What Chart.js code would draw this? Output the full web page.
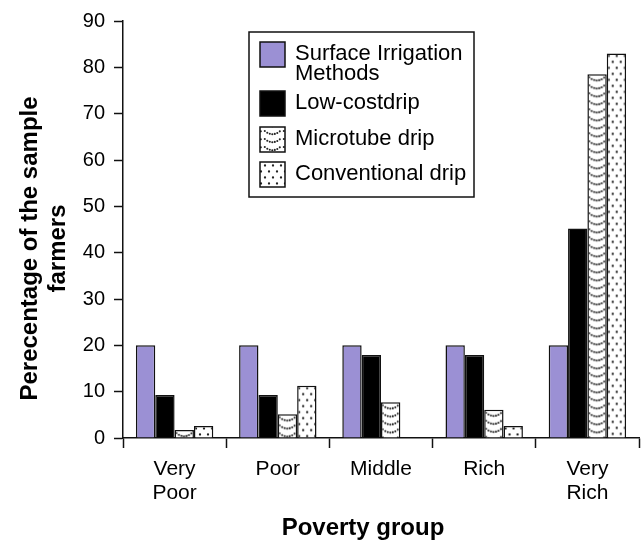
<!DOCTYPE html>
<html>
<head>
<meta charset="utf-8">
<script src="https://cdn.jsdelivr.net/npm/chart.js@4/dist/chart.umd.min.js"></script>
<style>
  html, body { margin: 0; padding: 0; background: #fff; }
  #wrap { width: 642px; height: 545px; }
</style>
</head>
<body>
<div id="wrap"><canvas id="chart" width="642" height="545"></canvas></div>
<script>
// Poverty groups on the x axis
const groups = [['Very', 'Poor'], 'Poor', 'Middle', 'Rich', ['Very', 'Rich']];

// Irrigation methods (legend text, one entry per line)
const seriesNames = [
  ['Surface Irrigation', 'Methods'],
  ['Low-costdrip'],
  ['Microtube drip'],
  ['Conventional drip']
];

// Percentage of sample farmers in each group
const surfaceIrrigation = [20, 20, 20, 20, 20];
const lowCostDrip       = [9.3, 9.3, 17.9, 17.9, 45.2];
const microtubeDrip     = [1.7, 5.1, 7.7, 6.1, 78.5];
const conventionalDrip  = [2.6, 11.3, 0, 2.6, 83.0];

// y axis ticks
const yMin = 0, yMax = 90, yStep = 10;

const FONT = "'Liberation Sans', Arial, Helvetica, sans-serif";
const INK = '#111';

// --- hatch tiles -------------------------------------------------------
function makeTile(w, h, paint) {
  const c = document.createElement('canvas');
  c.width = w; c.height = h;
  const g = c.getContext('2d');
  g.fillStyle = '#fff';
  g.fillRect(0, 0, w, h);
  g.fillStyle = '#222';
  paint(g, w, h);
  return c;
}
function dot(g, x, y, r) {
  g.beginPath(); g.arc(x, y, r, 0, Math.PI * 2); g.fill();
}
// rows of dotted "smile" arcs
const microTile = makeTile(19, 8, (g, w) => {
  for (let x = 1.8; x < w; x += 2.5) {
    const t = (x - w / 2) / (w / 2);
    dot(g, x, 1.4 + 4.8 * (1 - t * t), 1.05);
  }
});
// staggered dots
const dotTile = makeTile(8, 12, (g) => {
  dot(g, 2, 2.5, 1.15);
  dot(g, 6, 8.5, 1.15);
});

const ctx = document.getElementById('chart').getContext('2d');

function tiledPattern(tile, x, y) {
  const p = ctx.createPattern(tile, 'repeat');
  p.setTransform(new DOMMatrix([1, 0, 0, 1, x, y]));
  return p;
}

// Anchor each patterned bar's fill to its own top-left corner
const alignPatterns = {
  id: 'alignPatterns',
  afterDatasetsUpdate(chart) {
    chart.data.datasets.forEach((ds, i) => {
      if (!ds.tile) return;
      chart.getDatasetMeta(i).data.forEach(el => {
        const left = el.x - el.width / 2;
        el.options = Object.assign({}, el.options, {
          backgroundColor: tiledPattern(ds.tile, left, el.y)
        });
      });
    });
  }
};

// Boxed legend inside the plot
const boxLegend = {
  id: 'boxLegend',
  afterDatasetsDraw(chart) {
    const a = chart.chartArea;
    const g = chart.ctx;
    const bx = a.left + 126, by = a.top + 11, bw = 225, bh = 165;
    g.save();
    g.fillStyle = '#fff';
    g.fillRect(bx, by, bw, bh);
    g.lineWidth = 1.5;
    g.strokeStyle = INK;
    g.strokeRect(bx, by, bw, bh);

    const swatchTops = [10, 59, 95, 130];
    const sw = 25;
    g.font = `22px ${FONT}`;
    g.textBaseline = 'middle';
    g.textAlign = 'left';
    chart.data.datasets.forEach((ds, i) => {
      const sx = bx + 11, sy = by + swatchTops[i];
      g.fillStyle = ds.tile ? tiledPattern(ds.tile, sx + 3, sy + 1) : ds.backgroundColor;
      g.fillRect(sx, sy, sw, sw);
      g.lineWidth = 1.5;
      g.strokeStyle = INK;
      g.strokeRect(sx, sy, sw, sw);
      g.fillStyle = '#000';
      seriesNames[i].forEach((line, k) => {
        g.fillText(line, bx + 46, sy + 12 + k * 20);
      });
    });
    g.restore();
  }
};

// Axis titles
const axisTitles = {
  id: 'axisTitles',
  afterDraw(chart) {
    const a = chart.chartArea;
    const g = chart.ctx;
    g.save();
    g.fillStyle = '#000';
    g.font = `bold 24px ${FONT}`;
    g.textAlign = 'center';
    g.textBaseline = 'middle';
    g.fillText('Poverty group', (a.left + a.right) / 2 - 18, 528);
    const cy = (a.top + a.bottom) / 2 + 19;
    g.translate(0, cy);
    g.rotate(-Math.PI / 2);
    g.fillText('Perecentage of the sample', 0, 30);
    g.fillText('farmers', 0, 58);
    g.restore();
  }
};

const barBorder = { borderColor: INK, borderWidth: 1.5, borderSkipped: 'bottom' };

new Chart(ctx, {
  type: 'bar',
  data: {
    labels: groups,
    datasets: [
      { label: seriesNames[0].join(' '), data: surfaceIrrigation, backgroundColor: '#9b90d4', ...barBorder },
      { label: seriesNames[1].join(' '), data: lowCostDrip, backgroundColor: '#000', ...barBorder },
      { label: seriesNames[2].join(' '), data: microtubeDrip, backgroundColor: '#fff', tile: microTile, ...barBorder },
      { label: seriesNames[3].join(' '), data: conventionalDrip, backgroundColor: '#fff', tile: dotTile, ...barBorder }
    ]
  },
  options: {
    responsive: false,
    animation: false,
    events: [],
    categoryPercentage: 0.75,
    barPercentage: 1.0,
    layout: { padding: { top: 17, right: 3, left: 0, bottom: 0 } },
    plugins: {
      legend: { display: false },
      tooltip: { enabled: false },
      title: { display: false }
    },
    scales: {
      x: {
        offset: true,
        grid: {
          offset: true,
          drawOnChartArea: false,
          drawTicks: true,
          tickLength: 10,
          tickWidth: 1.5,
          tickColor: INK
        },
        border: { color: INK, width: 1.5 },
        ticks: {
          color: '#000',
          padding: 9,
          maxRotation: 0,
          autoSkip: false,
          font: { family: FONT, size: 21, lineHeight: 1.14 }
        },
        afterFit(scale) { scale.height = 107; }
      },
      y: {
        min: yMin,
        max: yMax,
        grid: {
          drawOnChartArea: false,
          drawTicks: true,
          tickLength: 9,
          tickWidth: 1.5,
          tickColor: INK
        },
        border: { color: INK, width: 1.5 },
        ticks: {
          stepSize: yStep,
          color: '#000',
          padding: 9,
          font: { family: FONT, size: 20 }
        },
        afterFit(scale) { scale.width = 123; }
      }
    }
  },
  plugins: [alignPatterns, boxLegend, axisTitles]
});
</script>
</body>
</html>
